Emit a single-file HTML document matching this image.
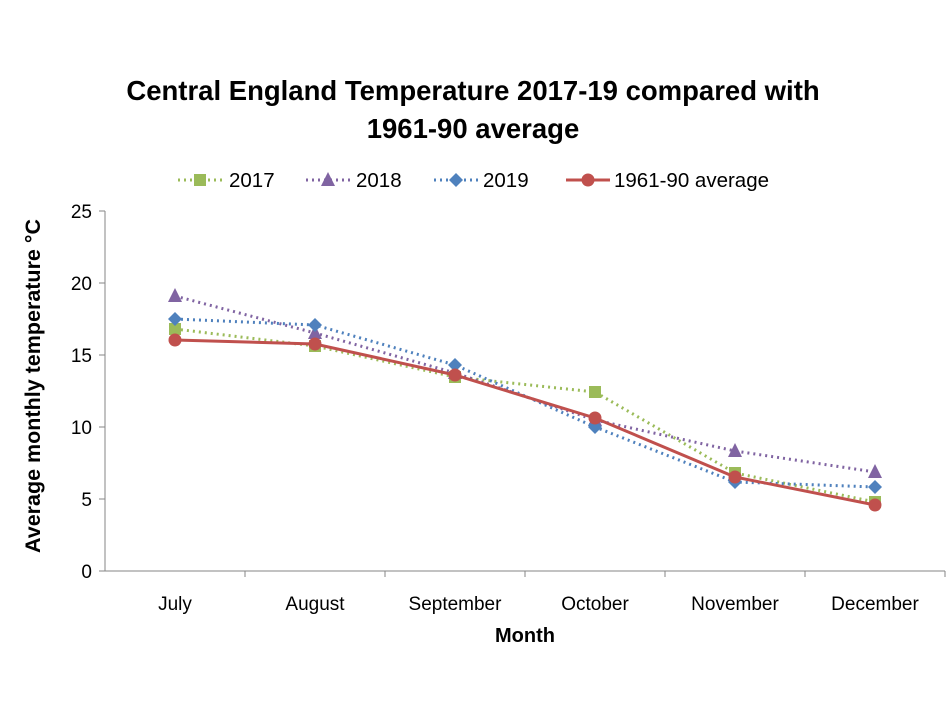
<!DOCTYPE html>
<html><head><meta charset="utf-8"><style>body{margin:0;background:#fff}svg{display:block}text{font-family:"Liberation Sans",sans-serif}</style></head><body>
<svg width="946" height="709" viewBox="0 0 946 709" xmlns="http://www.w3.org/2000/svg">
<text x="473" y="100" text-anchor="middle" font-size="27.5" font-weight="bold">Central England Temperature 2017-19 compared with</text>
<text x="473" y="138" text-anchor="middle" font-size="27.5" font-weight="bold">1961-90 average</text>
<g font-size="20.5">
<line x1="178" y1="180" x2="222" y2="180" stroke="#9BBB59" stroke-width="3" stroke-dasharray="2,4"/><rect x="194" y="174" width="12" height="12" fill="#9BBB59"/><text x="229" y="187">2017</text>
<line x1="306" y1="180" x2="350" y2="180" stroke="#8064A2" stroke-width="3" stroke-dasharray="2,4"/><polygon points="328,172 335,186 321,186" fill="#8064A2"/><text x="356" y="187">2018</text>
<line x1="434" y1="180" x2="478" y2="180" stroke="#4F81BD" stroke-width="3" stroke-dasharray="2,4"/><polygon points="456,173 463,180 456,187 449,180" fill="#4F81BD"/><text x="483" y="187">2019</text>
<line x1="566" y1="180" x2="610" y2="180" stroke="#C0504D" stroke-width="3"/><circle cx="588" cy="180" r="6.5" fill="#C0504D"/><text x="614" y="187">1961-90 average</text>
</g>
<g stroke="#868686" stroke-width="1">
<line x1="105" y1="211" x2="105" y2="571"/><line x1="105" y1="571" x2="945" y2="571"/>
<line x1="99" y1="211" x2="105" y2="211"/><line x1="99" y1="283" x2="105" y2="283"/><line x1="99" y1="355" x2="105" y2="355"/><line x1="99" y1="427" x2="105" y2="427"/><line x1="99" y1="499" x2="105" y2="499"/><line x1="99" y1="571" x2="105" y2="571"/>
<line x1="245" y1="571" x2="245" y2="577"/><line x1="385" y1="571" x2="385" y2="577"/><line x1="525" y1="571" x2="525" y2="577"/><line x1="665" y1="571" x2="665" y2="577"/><line x1="805" y1="571" x2="805" y2="577"/><line x1="945" y1="571" x2="945" y2="577"/>
</g>
<g font-size="19" text-anchor="end"><text x="92" y="218">25</text><text x="92" y="290">20</text><text x="92" y="362">15</text><text x="92" y="434">10</text><text x="92" y="506">5</text><text x="92" y="578">0</text></g>
<g font-size="19" text-anchor="middle"><text x="175" y="610">July</text><text x="315" y="610">August</text><text x="455" y="610">September</text><text x="595" y="610">October</text><text x="735" y="610">November</text><text x="875" y="610">December</text></g>
<text x="525" y="642" text-anchor="middle" font-size="20" font-weight="bold">Month</text>
<text transform="translate(40,386) rotate(-90)" text-anchor="middle" font-size="21.5" font-weight="bold">Average monthly temperature °C</text>
<polyline points="175,329 315,346 455,377 595,392 735,473 875,502" fill="none" stroke="#9BBB59" stroke-width="3" stroke-dasharray="2,4"/>
<g fill="#9BBB59"><rect x="169" y="323" width="12" height="12"/><rect x="309" y="340" width="12" height="12"/><rect x="449" y="371" width="12" height="12"/><rect x="589" y="386" width="12" height="12"/><rect x="729" y="467" width="12" height="12"/><rect x="869" y="496" width="12" height="12"/></g>
<polyline points="175,296 315,333 455,373 595,420 735,451 875,472" fill="none" stroke="#8064A2" stroke-width="3" stroke-dasharray="2,4"/>
<g fill="#8064A2"><polygon points="175,288 182,302 168,302"/><polygon points="315,325 322,339 308,339"/><polygon points="455,365 462,379 448,379"/><polygon points="595,412 602,426 588,426"/><polygon points="735,443 742,457 728,457"/><polygon points="875,464 882,478 868,478"/></g>
<polyline points="175,319 315,325 455,365 595,427 735,482 875,487" fill="none" stroke="#4F81BD" stroke-width="3" stroke-dasharray="2,4"/>
<g fill="#4F81BD"><polygon points="175,312 182,319 175,326 168,319"/><polygon points="315,318 322,325 315,332 308,325"/><polygon points="455,358 462,365 455,372 448,365"/><polygon points="595,420 602,427 595,434 588,427"/><polygon points="735,475 742,482 735,489 728,482"/><polygon points="875,480 882,487 875,494 868,487"/></g>
<polyline points="175,340 315,344 455,375 595,418 735,477 875,505" fill="none" stroke="#C0504D" stroke-width="3"/>
<g fill="#C0504D"><circle cx="175" cy="340" r="6.5"/><circle cx="315" cy="344" r="6.5"/><circle cx="455" cy="375" r="6.5"/><circle cx="595" cy="418" r="6.5"/><circle cx="735" cy="477" r="6.5"/><circle cx="875" cy="505" r="6.5"/></g>
</svg>
</body></html>
